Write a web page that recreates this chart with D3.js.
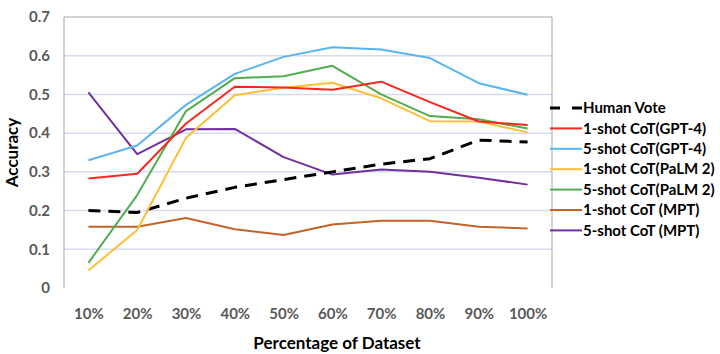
<!DOCTYPE html>
<html lang="en">
<head>
<meta charset="utf-8">
<title>Accuracy by Percentage of Dataset</title>
<script src="https://cdn.jsdelivr.net/npm/d3@7"></script>
<style>
  body { margin: 0; background: #fff; }
  text { font-family: Lato, "Open Sans", sans-serif; }
</style>
</head>
<body>
<script>
// data
var categories = ["10%", "20%", "30%", "40%", "50%", "60%", "70%", "80%", "90%", "100%"];
var yTicks = [0, 0.1, 0.2, 0.3, 0.4, 0.5, 0.6, 0.7];

var humanVote   = [0.200, 0.195, 0.232, 0.260, 0.280, 0.300, 0.320, 0.334, 0.382, 0.377];
var gpt4One     = [0.283, 0.295, 0.425, 0.520, 0.518, 0.512, 0.533, 0.480, 0.430, 0.421];
var gpt4Five    = [0.330, 0.368, 0.473, 0.553, 0.597, 0.622, 0.616, 0.594, 0.529, 0.499];
var palmOne     = [0.045, 0.150, 0.388, 0.498, 0.517, 0.530, 0.490, 0.431, 0.430, 0.402];
var palmFive    = [0.065, 0.240, 0.457, 0.542, 0.547, 0.574, 0.500, 0.444, 0.436, 0.412];
var mptOne      = [0.158, 0.158, 0.181, 0.152, 0.137, 0.164, 0.174, 0.174, 0.158, 0.154];
var mptFive     = [0.505, 0.346, 0.410, 0.411, 0.338, 0.293, 0.306, 0.300, 0.285, 0.267];

var series = [
  {name: "Human Vote", values: humanVote, color: "#000000", dash: "12,8", width: 3},
  {name: "1-shot CoT(GPT-4)", values: gpt4One, color: "#f5281e", width: 2},
  {name: "5-shot CoT(GPT-4)", values: gpt4Five, color: "#5ab4ee", width: 2},
  {name: "1-shot CoT(PaLM 2)", values: palmOne, color: "#fcbf35", width: 2},
  {name: "5-shot CoT(PaLM 2)", values: palmFive, color: "#52ad4f", width: 2},
  {name: "1-shot CoT (MPT)", values: mptOne, color: "#c3632a", width: 2},
  {name: "5-shot CoT (MPT)", values: mptFive, color: "#7030a0", width: 2}
];

var w = 720, h = 354;
var plotLeft = 64, plotRight = 552, plotTop = 17, plotBottom = 288;

var svg = d3.select("body").append("svg")
  .attr("width", w)
  .attr("height", h);

var x = d3.scalePoint()
  .domain(categories)
  .range([plotLeft, plotRight])
  .padding(0.5);

var y = d3.scaleLinear()
  .domain([0, 0.7])
  .range([plotBottom, plotTop]);

// gridlines
svg.append("g")
  .selectAll("line")
  .data(yTicks.filter(function(d) { return d > 0 && d < 0.7; }))
  .enter().append("line")
  .attr("x1", plotLeft).attr("x2", plotRight)
  .attr("y1", function(d) { return y(d); })
  .attr("y2", function(d) { return y(d); })
  .attr("stroke", "#d6dcef")
  .attr("stroke-width", 1.5);

// frame: left, top, right
svg.append("path")
  .attr("d", "M" + plotLeft + "," + plotBottom + "V" + plotTop + "H" + plotRight + "V" + plotBottom)
  .attr("fill", "none")
  .attr("stroke", "#a6a6a6")
  .attr("stroke-width", 1);

// y axis labels
var yAxis = d3.axisLeft(y).tickValues(yTicks).tickSize(0).tickPadding(14)
  .tickFormat(function(d) { return d === 0 ? "0" : d3.format(".1f")(d); });
var gy = svg.append("g").attr("transform", "translate(" + plotLeft + ",0)").call(yAxis);
gy.select(".domain").remove();
gy.selectAll("text")
  .attr("fill", "#595959")
  .attr("font-size", 15)
  .attr("font-weight", "bold");

// x axis labels
var xAxis = d3.axisBottom(x).tickSize(0).tickPadding(20);
var gx = svg.append("g").attr("transform", "translate(0," + plotBottom + ")").call(xAxis);
gx.select(".domain").remove();
gx.selectAll("text")
  .attr("fill", "#595959")
  .attr("font-size", 15)
  .attr("font-weight", "bold");

// axis titles
svg.append("text")
  .text("Accuracy")
  .attr("transform", "translate(18," + ((plotTop + plotBottom) / 2) + ") rotate(-90)")
  .attr("text-anchor", "middle")
  .attr("font-size", 17)
  .attr("font-weight", "bold")
  .attr("fill", "#000");

svg.append("text")
  .text("Percentage of Dataset")
  .attr("x", 337)
  .attr("y", 349)
  .attr("text-anchor", "middle")
  .attr("font-size", 17)
  .attr("font-weight", "bold")
  .attr("fill", "#000");

// lines
var line = d3.line()
  .x(function(d, i) { return x(categories[i]); })
  .y(function(d) { return y(d); });

// draw order: back to front roughly like the original
var drawOrder = [6, 5, 0, 3, 4, 1, 2];
drawOrder.forEach(function(k) {
  var s = series[k];
  svg.append("path")
    .datum(s.values)
    .attr("d", line)
    .attr("fill", "none")
    .attr("stroke", s.color)
    .attr("stroke-width", s.width)
    .attr("stroke-dasharray", s.dash || null)
    .attr("stroke-linejoin", "round");
});

// legend
var legend = svg.append("g").attr("transform", "translate(550,108)");
var items = legend.selectAll("g")
  .data(series)
  .enter().append("g")
  .attr("transform", function(d, i) { return "translate(0," + (i * 20.4) + ")"; });

items.append("line")
  .attr("x1", 0).attr("x2", 32)
  .attr("y1", 0).attr("y2", 0)
  .attr("stroke", function(d) { return d.color; })
  .attr("stroke-width", function(d) { return d.width; })
  .attr("stroke-dasharray", function(d) { return d.dash ? "10,12" : null; });

items.append("text")
  .text(function(d) { return d.name; })
  .attr("x", 33)
  .attr("y", 0)
  .attr("dy", "0.35em")
  .attr("font-size", 15)
  .attr("font-weight", "bold")
  .attr("fill", "#000");
</script>
</body>
</html>
